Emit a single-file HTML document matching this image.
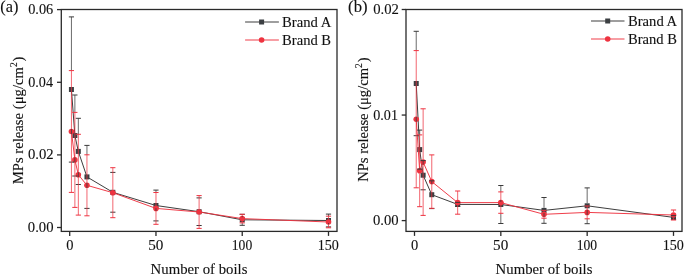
<!DOCTYPE html>
<html><head><meta charset="utf-8"><style>
html,body{margin:0;padding:0;background:#fff;width:685px;height:275px;overflow:hidden}
svg{display:block;will-change:transform}
text{font-family:"Liberation Serif",serif;fill:#111111;stroke:#111111;stroke-width:0.12px}
</style></head><body>
<svg width="685" height="275" viewBox="0 0 685 275">
<rect x="61.3" y="9.5" width="275.7" height="221.9" fill="none" stroke="#2a2a2a" stroke-width="1.3"/>
<line x1="57" y1="227.5" x2="61.3" y2="227.5" stroke="#2a2a2a" stroke-width="1.3"/>
<text transform="translate(27.83,232) scale(0.9462,1)" style="font-size:15.5px">0.00</text>
<line x1="57" y1="154.9" x2="61.3" y2="154.9" stroke="#2a2a2a" stroke-width="1.3"/>
<text transform="translate(28.03,159.4) scale(0.9476,1)" style="font-size:15.5px">0.02</text>
<line x1="57" y1="82.3" x2="61.3" y2="82.3" stroke="#2a2a2a" stroke-width="1.3"/>
<text transform="translate(28.24,86.8) scale(0.9132,1)" style="font-size:15.5px">0.04</text>
<line x1="57" y1="9.6" x2="61.3" y2="9.6" stroke="#2a2a2a" stroke-width="1.3"/>
<text transform="translate(28.14,14.1) scale(0.9257,1)" style="font-size:15.5px">0.06</text>
<line x1="69.7" y1="231.4" x2="69.7" y2="235.9" stroke="#2a2a2a" stroke-width="1.3"/>
<text transform="translate(66.18,250.3) scale(0.9333,1)" style="font-size:15.5px">0</text>
<line x1="155.97" y1="231.4" x2="155.97" y2="235.9" stroke="#2a2a2a" stroke-width="1.3"/>
<text transform="translate(148.24,250.3) scale(0.9786,1)" style="font-size:15.5px">50</text>
<line x1="242.23" y1="231.4" x2="242.23" y2="235.9" stroke="#2a2a2a" stroke-width="1.3"/>
<text transform="translate(231.78,250.3) scale(0.8791,1)" style="font-size:15.5px">100</text>
<line x1="328.5" y1="231.4" x2="328.5" y2="235.9" stroke="#2a2a2a" stroke-width="1.3"/>
<text transform="translate(317.66,250.3) scale(0.9116,1)" style="font-size:15.5px">150</text>
<text transform="translate(150.61,273.8) scale(0.9851,1)" style="font-size:15px">Number of boils</text>
<text transform="translate(22.9,184.27) rotate(-90) scale(0.9480,1)" style="font-size:15.5px">MPs release (μg/cm<tspan dy="-6" font-size="10">2</tspan><tspan dy="6" dx="1">)</tspan></text>
<text transform="translate(0.23,12.1) scale(1.0215,1)" style="font-size:16px">(a)</text>
<path d="M71.43 89.5 L74.88 135.5 L78.33 151.4 L86.95 176.9 L112.83 192.3 L155.97 205.5 L199.1 211.7 L242.23 219.8 L328.5 220.5" stroke="#333333" stroke-width="0.95" fill="none" stroke-linejoin="round"/>
<rect x="68.93" y="87" width="5" height="5" fill="#3b3f42"/>
<rect x="72.38" y="133" width="5" height="5" fill="#3b3f42"/>
<rect x="75.83" y="148.9" width="5" height="5" fill="#3b3f42"/>
<rect x="84.45" y="174.4" width="5" height="5" fill="#3b3f42"/>
<rect x="110.33" y="189.8" width="5" height="5" fill="#3b3f42"/>
<rect x="153.47" y="203" width="5" height="5" fill="#3b3f42"/>
<rect x="196.6" y="209.2" width="5" height="5" fill="#3b3f42"/>
<rect x="239.73" y="217.3" width="5" height="5" fill="#3b3f42"/>
<rect x="326" y="218" width="5" height="5" fill="#3b3f42"/>
<path d="M71.43 131.5 L74.88 159.9 L78.33 174.7 L86.95 185.3 L112.83 192.7 L155.97 208.4 L199.1 212 L242.23 218.6 L328.5 222" stroke="#ee3340" stroke-width="0.95" fill="none" stroke-linejoin="round"/>
<circle cx="71.43" cy="131.5" r="2.8" fill="#ee3340"/>
<circle cx="74.88" cy="159.9" r="2.8" fill="#ee3340"/>
<circle cx="78.33" cy="174.7" r="2.8" fill="#ee3340"/>
<circle cx="86.95" cy="185.3" r="2.8" fill="#ee3340"/>
<circle cx="112.83" cy="192.7" r="2.8" fill="#ee3340"/>
<circle cx="155.97" cy="208.4" r="2.8" fill="#ee3340"/>
<circle cx="199.1" cy="212" r="2.8" fill="#ee3340"/>
<circle cx="242.23" cy="218.6" r="2.8" fill="#ee3340"/>
<circle cx="328.5" cy="222" r="2.8" fill="#ee3340"/>
<path d="M71.43 16.9V70.6M71.43 128.9V134.1" stroke="#3a3a3a" stroke-width="0.75" fill="none"/>
<path d="M68.83 16.9H74.03M68.83 162.1H74.03" stroke="#3a3a3a" stroke-width="1.0" fill="none"/>
<path d="M74.88 95V112.4M74.88 157.3V162.5" stroke="#3a3a3a" stroke-width="0.75" fill="none"/>
<path d="M72.28 95H77.48M72.28 176H77.48" stroke="#3a3a3a" stroke-width="1.0" fill="none"/>
<path d="M78.33 118.3V134.3M78.33 172.1V177.3" stroke="#3a3a3a" stroke-width="0.75" fill="none"/>
<path d="M75.73 118.3H80.93M75.73 184.5H80.93" stroke="#3a3a3a" stroke-width="1.0" fill="none"/>
<path d="M86.95 145.4V154.8M86.95 182.7V187.9" stroke="#3a3a3a" stroke-width="0.75" fill="none"/>
<path d="M84.35 145.4H89.55M84.35 208.4H89.55" stroke="#3a3a3a" stroke-width="1.0" fill="none"/>
<path d="M112.83 194.9V195.3" stroke="#3a3a3a" stroke-width="0.75" fill="none"/>
<path d="M110.23 172.4H115.43M110.23 212.2H115.43" stroke="#3a3a3a" stroke-width="1.0" fill="none"/>
<path d="M155.97 190.1V192.5M155.97 208.1V211" stroke="#3a3a3a" stroke-width="0.75" fill="none"/>
<path d="M153.37 190.1H158.56M153.37 220.9H158.56" stroke="#3a3a3a" stroke-width="1.0" fill="none"/>
<path d="M199.1 214.3V214.6" stroke="#3a3a3a" stroke-width="0.75" fill="none"/>
<path d="M196.5 197.9H201.7M196.5 225.5H201.7" stroke="#3a3a3a" stroke-width="1.0" fill="none"/>
<path d="M242.23 216V217.2M242.23 222.9V225.3" stroke="#3a3a3a" stroke-width="0.75" fill="none"/>
<path d="M239.63 214.3H244.83M239.63 225.3H244.83" stroke="#3a3a3a" stroke-width="1.0" fill="none"/>
<path d="M328.5 214.1V216.2M328.5 223.1V224.6" stroke="#3a3a3a" stroke-width="0.75" fill="none"/>
<path d="M325.89 214.1H331.1M325.89 226.9H331.1" stroke="#3a3a3a" stroke-width="1.0" fill="none"/>
<path d="M71.43 70.6V128.9M71.43 134.1V192.4" stroke="#ee3340" stroke-width="0.75" fill="none"/>
<path d="M68.83 70.6H74.03M68.83 192.4H74.03" stroke="#ee3340" stroke-width="1.0" fill="none"/>
<path d="M74.88 112.4V157.3M74.88 162.5V207.4" stroke="#ee3340" stroke-width="0.75" fill="none"/>
<path d="M72.28 112.4H77.48M72.28 207.4H77.48" stroke="#ee3340" stroke-width="1.0" fill="none"/>
<path d="M78.33 134.3V172.1M78.33 177.3V215.1" stroke="#ee3340" stroke-width="0.75" fill="none"/>
<path d="M75.73 134.3H80.93M75.73 215.1H80.93" stroke="#ee3340" stroke-width="1.0" fill="none"/>
<path d="M86.95 154.8V182.7M86.95 187.9V215.8" stroke="#ee3340" stroke-width="0.75" fill="none"/>
<path d="M84.35 154.8H89.55M84.35 215.8H89.55" stroke="#ee3340" stroke-width="1.0" fill="none"/>
<path d="M112.83 167.7V190.1M112.83 195.3V217.7" stroke="#ee3340" stroke-width="0.75" fill="none"/>
<path d="M110.23 167.7H115.43M110.23 217.7H115.43" stroke="#ee3340" stroke-width="1.0" fill="none"/>
<path d="M155.97 192.5V205.8M155.97 211V224.3" stroke="#ee3340" stroke-width="0.75" fill="none"/>
<path d="M153.37 192.5H158.56M153.37 224.3H158.56" stroke="#ee3340" stroke-width="1.0" fill="none"/>
<path d="M199.1 195.6V209.4M199.1 214.6V228.4" stroke="#ee3340" stroke-width="0.75" fill="none"/>
<path d="M196.5 195.6H201.7M196.5 228.4H201.7" stroke="#ee3340" stroke-width="1.0" fill="none"/>
<path d="M242.23 214.3V216M242.23 221.2V222.9" stroke="#ee3340" stroke-width="0.75" fill="none"/>
<path d="M239.63 214.3H244.83M239.63 222.9H244.83" stroke="#ee3340" stroke-width="1.0" fill="none"/>
<path d="M328.5 216.2V219.4M328.5 224.6V227.8" stroke="#ee3340" stroke-width="0.75" fill="none"/>
<path d="M325.89 216.2H331.1M325.89 227.8H331.1" stroke="#ee3340" stroke-width="1.0" fill="none"/>
<line x1="245.1" y1="22" x2="278.9" y2="22" stroke="#333333" stroke-width="0.95"/>
<rect x="259.1" y="19.5" width="5" height="5" fill="#3b3f42"/>
<text transform="translate(282.11,26.6) scale(0.9769,1)" style="font-size:15px">Brand A</text>
<line x1="245.1" y1="40" x2="278.9" y2="40" stroke="#ee3340" stroke-width="0.95"/>
<circle cx="261.6" cy="40" r="2.8" fill="#ee3340"/>
<text transform="translate(282.11,44.5) scale(0.9726,1)" style="font-size:15px">Brand B</text>
<rect x="406" y="9.5" width="276" height="221.9" fill="none" stroke="#2a2a2a" stroke-width="1.3"/>
<line x1="401.7" y1="220.6" x2="406" y2="220.6" stroke="#2a2a2a" stroke-width="1.3"/>
<text transform="translate(372.93,225.1) scale(0.9462,1)" style="font-size:15.5px">0.00</text>
<line x1="401.7" y1="115.05" x2="406" y2="115.05" stroke="#2a2a2a" stroke-width="1.3"/>
<text transform="translate(373.24,119.55) scale(0.9126,1)" style="font-size:15.5px">0.01</text>
<line x1="401.7" y1="9.5" x2="406" y2="9.5" stroke="#2a2a2a" stroke-width="1.3"/>
<text transform="translate(373.13,14) scale(0.9476,1)" style="font-size:15.5px">0.02</text>
<line x1="414.5" y1="231.4" x2="414.5" y2="235.9" stroke="#2a2a2a" stroke-width="1.3"/>
<text transform="translate(410.98,250.3) scale(0.9333,1)" style="font-size:15.5px">0</text>
<line x1="500.83" y1="231.4" x2="500.83" y2="235.9" stroke="#2a2a2a" stroke-width="1.3"/>
<text transform="translate(493.11,250.3) scale(0.9786,1)" style="font-size:15.5px">50</text>
<line x1="587.17" y1="231.4" x2="587.17" y2="235.9" stroke="#2a2a2a" stroke-width="1.3"/>
<text transform="translate(576.72,250.3) scale(0.8791,1)" style="font-size:15.5px">100</text>
<line x1="673.5" y1="231.4" x2="673.5" y2="235.9" stroke="#2a2a2a" stroke-width="1.3"/>
<text transform="translate(662.67,250.3) scale(0.9116,1)" style="font-size:15.5px">150</text>
<text transform="translate(495.61,273.8) scale(0.9851,1)" style="font-size:15px">Number of boils</text>
<text transform="translate(367.7,181.77) rotate(-90) scale(0.9405,1)" style="font-size:15.5px">NPs release (μg/cm<tspan dy="-6" font-size="10">2</tspan><tspan dy="6" dx="1">)</tspan></text>
<text transform="translate(348.12,12.1) scale(1.0435,1)" style="font-size:16px">(b)</text>
<path d="M416.23 83.5 L419.68 149.6 L423.13 175.2 L431.77 194.7 L457.67 204.4 L500.83 204.5 L544 210.4 L587.17 205.8 L673.5 217.4" stroke="#333333" stroke-width="0.95" fill="none" stroke-linejoin="round"/>
<rect x="413.73" y="81" width="5" height="5" fill="#3b3f42"/>
<rect x="417.18" y="147.1" width="5" height="5" fill="#3b3f42"/>
<rect x="420.63" y="172.7" width="5" height="5" fill="#3b3f42"/>
<rect x="429.27" y="192.2" width="5" height="5" fill="#3b3f42"/>
<rect x="455.17" y="201.9" width="5" height="5" fill="#3b3f42"/>
<rect x="498.33" y="202" width="5" height="5" fill="#3b3f42"/>
<rect x="541.5" y="207.9" width="5" height="5" fill="#3b3f42"/>
<rect x="584.67" y="203.3" width="5" height="5" fill="#3b3f42"/>
<rect x="671" y="214.9" width="5" height="5" fill="#3b3f42"/>
<path d="M416.23 119.2 L419.68 170.8 L423.13 162.1 L431.77 181.6 L457.67 202.6 L500.83 202.6 L544 214.3 L587.17 212.4 L673.5 215" stroke="#ee3340" stroke-width="0.95" fill="none" stroke-linejoin="round"/>
<circle cx="416.23" cy="119.2" r="2.8" fill="#ee3340"/>
<circle cx="419.68" cy="170.8" r="2.8" fill="#ee3340"/>
<circle cx="423.13" cy="162.1" r="2.8" fill="#ee3340"/>
<circle cx="431.77" cy="181.6" r="2.8" fill="#ee3340"/>
<circle cx="457.67" cy="202.6" r="2.8" fill="#ee3340"/>
<circle cx="500.83" cy="202.6" r="2.8" fill="#ee3340"/>
<circle cx="544" cy="214.3" r="2.8" fill="#ee3340"/>
<circle cx="587.17" cy="212.4" r="2.8" fill="#ee3340"/>
<circle cx="673.5" cy="215" r="2.8" fill="#ee3340"/>
<path d="M416.23 31.3V50.6M416.23 116.6V121.8" stroke="#3a3a3a" stroke-width="0.75" fill="none"/>
<path d="M413.63 31.3H418.83M413.63 135.7H418.83" stroke="#3a3a3a" stroke-width="1.0" fill="none"/>
<path d="M419.68 130.1V134.9M419.68 168.2V169.1" stroke="#3a3a3a" stroke-width="0.75" fill="none"/>
<path d="M417.08 130.1H422.28M417.08 169.1H422.28" stroke="#3a3a3a" stroke-width="1.0" fill="none"/>
<path d="M423.13 160.6V164.7" stroke="#3a3a3a" stroke-width="0.75" fill="none"/>
<path d="M420.53 160.6H425.73M420.53 189.8H425.73" stroke="#3a3a3a" stroke-width="1.0" fill="none"/>
<path d="M431.77 180.8V184.2M431.77 208.3V208.6" stroke="#3a3a3a" stroke-width="0.75" fill="none"/>
<path d="M429.17 180.8H434.37M429.17 208.6H434.37" stroke="#3a3a3a" stroke-width="1.0" fill="none"/>
<path d="M455.07 202.4H460.27M455.07 206.4H460.27" stroke="#3a3a3a" stroke-width="1.0" fill="none"/>
<path d="M500.83 185.5V191.9M500.83 200V201.9M500.83 213.3V223.5" stroke="#3a3a3a" stroke-width="0.75" fill="none"/>
<path d="M498.23 185.5H503.44M498.23 223.5H503.44" stroke="#3a3a3a" stroke-width="1.0" fill="none"/>
<path d="M544 197.5V207.8M544 213V216.9M544 218.2V223.3" stroke="#3a3a3a" stroke-width="0.75" fill="none"/>
<path d="M541.4 197.5H546.6M541.4 223.3H546.6" stroke="#3a3a3a" stroke-width="1.0" fill="none"/>
<path d="M587.17 187.9V203.2M587.17 209.8V215M587.17 218.8V223.7" stroke="#3a3a3a" stroke-width="0.75" fill="none"/>
<path d="M584.57 187.9H589.77M584.57 223.7H589.77" stroke="#3a3a3a" stroke-width="1.0" fill="none"/>
<path d="M670.9 215.6H676.11M670.9 219.2H676.11" stroke="#3a3a3a" stroke-width="1.0" fill="none"/>
<path d="M416.23 50.6V116.6M416.23 121.8V187.8" stroke="#ee3340" stroke-width="0.75" fill="none"/>
<path d="M413.63 50.6H418.83M413.63 187.8H418.83" stroke="#ee3340" stroke-width="1.0" fill="none"/>
<path d="M419.68 134.9V168.2M419.68 173.4V206.7" stroke="#ee3340" stroke-width="0.75" fill="none"/>
<path d="M417.08 134.9H422.28M417.08 206.7H422.28" stroke="#ee3340" stroke-width="1.0" fill="none"/>
<path d="M423.13 108.8V159.5M423.13 164.7V215.4" stroke="#ee3340" stroke-width="0.75" fill="none"/>
<path d="M420.53 108.8H425.73M420.53 215.4H425.73" stroke="#ee3340" stroke-width="1.0" fill="none"/>
<path d="M431.77 154.9V179M431.77 184.2V208.3" stroke="#ee3340" stroke-width="0.75" fill="none"/>
<path d="M429.17 154.9H434.37M429.17 208.3H434.37" stroke="#ee3340" stroke-width="1.0" fill="none"/>
<path d="M457.67 191V200M457.67 205.2V214.2" stroke="#ee3340" stroke-width="0.75" fill="none"/>
<path d="M455.07 191H460.27M455.07 214.2H460.27" stroke="#ee3340" stroke-width="1.0" fill="none"/>
<path d="M500.83 191.9V200M500.83 205.2V213.3" stroke="#ee3340" stroke-width="0.75" fill="none"/>
<path d="M498.23 191.9H503.44M498.23 213.3H503.44" stroke="#ee3340" stroke-width="1.0" fill="none"/>
<path d="M544 210.4V211.7M544 216.9V218.2" stroke="#ee3340" stroke-width="0.75" fill="none"/>
<path d="M541.4 210.4H546.6M541.4 218.2H546.6" stroke="#ee3340" stroke-width="1.0" fill="none"/>
<path d="M587.17 206V209.8M587.17 215V218.8" stroke="#ee3340" stroke-width="0.75" fill="none"/>
<path d="M584.57 206H589.77M584.57 218.8H589.77" stroke="#ee3340" stroke-width="1.0" fill="none"/>
<path d="M673.5 210V212.4M673.5 217.6V220" stroke="#ee3340" stroke-width="0.75" fill="none"/>
<path d="M670.9 210H676.11M670.9 220H676.11" stroke="#ee3340" stroke-width="1.0" fill="none"/>
<line x1="591" y1="21" x2="624.5" y2="21" stroke="#333333" stroke-width="0.95"/>
<rect x="605.2" y="18.5" width="5" height="5" fill="#3b3f42"/>
<text transform="translate(628.01,25.9) scale(0.9749,1)" style="font-size:15px">Brand A</text>
<line x1="591" y1="39" x2="624.5" y2="39" stroke="#ee3340" stroke-width="0.95"/>
<circle cx="607.7" cy="39" r="2.8" fill="#ee3340"/>
<text transform="translate(628.01,43.8) scale(0.9706,1)" style="font-size:15px">Brand B</text>
</svg>
</body></html>
